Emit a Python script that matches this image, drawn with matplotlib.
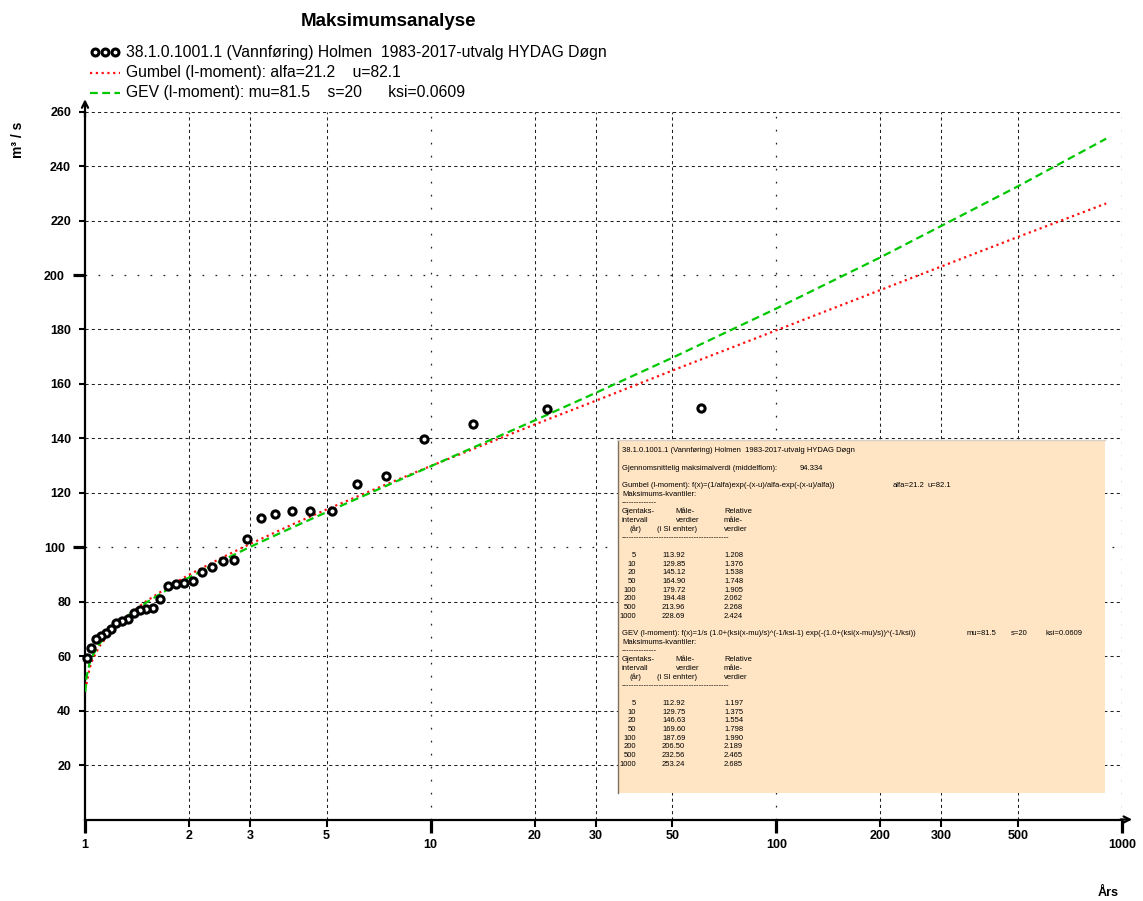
import matplotlib
matplotlib.use('Agg')
import matplotlib.pyplot as plt
from matplotlib.lines import Line2D
from matplotlib.patches import Rectangle
from matplotlib import font_manager
from matplotlib.ticker import FixedLocator, FixedFormatter

# ---------------- data ----------------
obs_T = [60.6, 21.77, 13.27, 9.54, 7.45, 6.11, 5.18, 4.49, 3.97, 3.55, 3.22, 2.94,
         2.70, 2.50, 2.33, 2.18, 2.05, 1.934, 1.83, 1.737, 1.652, 1.575, 1.506,
         1.442, 1.383, 1.329, 1.278, 1.232, 1.188, 1.149, 1.111, 1.076, 1.042, 1.011]
obs_Q = [151.0, 150.9, 145.4, 139.9, 126.0, 123.3, 113.5, 113.5, 113.5, 112.1, 110.7,
         103.1, 95.3, 95.1, 92.6, 90.9, 87.7, 86.8, 86.5, 85.6, 81.0, 77.8, 77.5,
         76.9, 75.9, 73.8, 73.0, 72.0, 69.8, 68.6, 67.5, 66.4, 63.1, 59.2]

gum_T = [1.01, 1.03, 1.05, 1.1, 1.2, 1.35, 1.5, 1.75, 2, 2.5, 3, 4, 5, 7, 10, 15,
         20, 30, 50, 100, 200, 500, 900]
gum_Q = [49.7, 55.3, 58.5, 63.6, 69.7, 75.7, 80.1, 85.6, 89.9, 96.3, 101.2, 108.5,
         113.9, 121.7, 129.85, 138.8, 145.1, 153.8, 164.9, 179.7, 194.5, 214.0, 226.3]

gev_T = [1.002, 1.01, 1.03, 1.05, 1.1, 1.2, 1.35, 1.5, 1.75, 2, 2.5, 3, 4, 5, 7, 10,
         15, 20, 30, 50, 100, 200, 500, 900]
gev_Q = [46.9, 52.3, 57.2, 60.0, 64.5, 70.0, 75.6, 79.6, 84.8, 88.9, 95.2, 100.1,
         107.4, 112.9, 121.1, 129.75, 139.6, 146.6, 156.7, 169.6, 187.7, 206.5,
         232.6, 250.1]

y_minor = [20, 40, 60, 80, 120, 140, 160, 180, 220, 240, 260]
y_major = [100, 200]
x_minor = [2, 3, 5, 20, 30, 50, 200, 300, 500]
x_major = [1, 10, 100, 1000]

title = "Maksimumsanalyse"
leg_obs = "38.1.0.1001.1 (Vannføring) Holmen  1983-2017-utvalg HYDAG Døgn"
leg_gum = "Gumbel (l-moment): alfa=21.2    u=82.1"
leg_gev = "GEV (l-moment): mu=81.5    s=20      ksi=0.0609"

tab_T = ["5", "10", "20", "50", "100", "200", "500", "1000"]
gum_val = ["113.92", "129.85", "145.12", "164.90", "179.72", "194.48", "213.96", "228.69"]
gum_rel = ["1.208", "1.376", "1.538", "1.748", "1.905", "2.062", "2.268", "2.424"]
gev_val = ["112.92", "129.75", "146.63", "169.60", "187.69", "206.50", "232.56", "253.24"]
gev_rel = ["1.197", "1.375", "1.554", "1.798", "1.990", "2.189", "2.465", "2.685"]

# ---------------- figure ----------------
W, H = 1143, 901
fig = plt.figure(figsize=(W / 100, H / 100), dpi=100)
SANS = 'Liberation Sans'
names = {f.name for f in font_manager.fontManager.ttflist}
NARROW = 'Liberation Sans Narrow' if 'Liberation Sans Narrow' in names else SANS

def fx(x):
    return x / W

def fy(y):
    return 1 - y / H

x0, x1 = 85, 1122
y0, y1 = 819.5, 111.7
ax = fig.add_axes([fx(x0), fy(y0), (x1 - x0) / W, (y0 - y1) / H])
ax.set_xscale('log')
ax.set_xlim(1, 1000)
ax.set_ylim(0, 260)
ax.set_facecolor('white')

for s in ['top', 'right']:
    ax.spines[s].set_visible(False)
for s in ['left', 'bottom']:
    ax.spines[s].set_linewidth(1.6)
    ax.spines[s].set_color('black')

# gridlines
gcol = '#202020'
for v in y_minor:
    ax.axhline(v, color=gcol, lw=0.75, ls=(0, (3, 3)), zorder=1)
for v in y_major:
    ax.axhline(v, color=gcol, lw=0.9, ls=(0, (1.4, 9)), zorder=1)
for v in x_minor:
    ax.axvline(v, color=gcol, lw=0.75, ls=(0, (3, 3)), zorder=1)
for v in x_major[1:]:
    ax.axvline(v, color=gcol, lw=0.9, ls=(0, (1.4, 9)), zorder=1)

# ticks
ax.yaxis.set_major_locator(FixedLocator(y_major))
ax.yaxis.set_minor_locator(FixedLocator(y_minor))
ax.yaxis.set_major_formatter(FixedFormatter([str(v) for v in y_major]))
ax.yaxis.set_minor_formatter(FixedFormatter([str(v) for v in y_minor]))
ax.xaxis.set_major_locator(FixedLocator(x_major))
ax.xaxis.set_minor_locator(FixedLocator(x_minor))
ax.xaxis.set_major_formatter(FixedFormatter([str(v) for v in x_major]))
ax.xaxis.set_minor_formatter(FixedFormatter([str(v) for v in x_minor]))

ax.tick_params(axis='y', which='minor', direction='out', length=4, width=1.5, pad=6)
ax.tick_params(axis='y', which='major', direction='out', length=8.5, width=2.3, pad=6)
ax.tick_params(axis='x', which='minor', direction='out', length=5, width=1.5, pad=2.5)
ax.tick_params(axis='x', which='major', direction='out', length=9, width=2.3, pad=5)
for lab in ax.get_xticklabels(which='both') + ax.get_yticklabels(which='both'):
    lab.set_fontfamily(SANS)
    lab.set_fontweight('bold')
    lab.set_fontsize(9)

# curves
ax.plot(gum_T, gum_Q, color='#FF1010', lw=1.6, ls=(0, (1, 1.6)), zorder=3)
ax.plot(gev_T, gev_Q, color='#00C800', lw=1.6, ls=(0, (3.5, 2)), zorder=3)
ax.plot(obs_T, obs_Q, ls='none', marker='o', ms=5.2, mew=2.2, mec='black',
        mfc='white', zorder=4, clip_on=False)

# axis arrows
ax.annotate('', xy=(1, 264.6), xytext=(1, 258), annotation_clip=False,
            arrowprops=dict(arrowstyle='->', lw=1.6, color='black', mutation_scale=11,
                            shrinkA=0, shrinkB=0))
ax.annotate('', xy=(1070, 0), xytext=(990, 0), annotation_clip=False,
            arrowprops=dict(arrowstyle='->', lw=1.6, color='black', mutation_scale=11,
                            shrinkA=0, shrinkB=0))

# title, axis labels
fig.text(fx(388), fy(22), title, ha='center', va='center', fontsize=13.5,
         fontweight='bold', family=SANS)
fig.text(fx(18), fy(140), 'm³ / s', rotation=90, ha='center', va='center',
         fontsize=10, fontweight='bold', family=SANS)
fig.text(fx(1108), fy(893), 'Års', ha='center', va='center', fontsize=9,
         fontweight='bold', family=SANS)

# legend
for xm in (95, 105, 115):
    fig.add_artist(Line2D([fx(xm)], [fy(52)], transform=fig.transFigure, marker='o',
                          ms=5.0, mew=2.2, mec='black', mfc='white', ls='none'))
fig.add_artist(Line2D([fx(90), fx(120)], [fy(73), fy(73)], transform=fig.transFigure,
                      color='#FF1010', lw=1.6, ls=(0, (1, 1.6))))
fig.add_artist(Line2D([fx(90), fx(120)], [fy(93), fy(93)], transform=fig.transFigure,
                      color='#00C800', lw=1.6, ls=(0, (3.5, 2))))
for yy, txt in ((52, leg_obs), (73, leg_gum), (93, leg_gev)):
    fig.text(fx(126), fy(yy), txt, ha='left', va='center', fontsize=11.3, family=SANS)

# info box
bx0, by0, bx1, by1 = 618, 440, 1105, 793
fig.add_artist(Rectangle((fx(bx0), fy(by1)), (bx1 - bx0) / W, (by1 - by0) / H,
                         transform=fig.transFigure, facecolor='#FFE5C4',
                         edgecolor='none', zorder=5))
fig.add_artist(Line2D([fx(bx0), fx(bx0)], [fy(by0), fy(by1)], transform=fig.transFigure,
                      color='#807060', lw=1, zorder=6))
fig.add_artist(Line2D([fx(bx0), fx(bx1)], [fy(by0), fy(by0)], transform=fig.transFigure,
                      color='#D8D0C8', lw=1, zorder=6))

# font size for box text so that the first line is ~235 px wide
renderer = fig.canvas.get_renderer()
probe = fig.text(0, 0, leg_obs, fontsize=10, family=NARROW)
wprobe = probe.get_window_extent(renderer).width
probe.remove()
bfs = 10 * 235 / wprobe

def btxt(x, line, s, ha='left'):
    fig.text(fx(x), fy(451 + 8.7 * line), s, ha=ha, va='center', fontsize=bfs,
             family=NARROW, color='black', zorder=7)

btxt(622, 0, leg_obs)
btxt(622, 2, "Gjennomsnittelig maksimalverdi (middelflom):")
btxt(800, 2, "94.334")

def block(start, formula, params, vals, rels):
    btxt(622, start, formula)
    for xp, p in params:
        btxt(xp, start, p)
    btxt(622, start + 1, "Maksimums-kvantiler:")
    btxt(622, start + 2, "-" * 14)
    btxt(622, start + 3, "Gjentaks-")
    btxt(675, start + 3, "Måle-")
    btxt(724, start + 3, "Relative")
    btxt(622, start + 4, "intervall")
    btxt(676, start + 4, "verdier")
    btxt(724, start + 4, "måle-")
    btxt(630, start + 5, "(år)")
    btxt(657, start + 5, "(i SI enhter)")
    btxt(724, start + 5, "verdier")
    btxt(622, start + 6, "-" * 43)
    for i, (t, v, r) in enumerate(zip(tab_T, vals, rels)):
        btxt(636, start + 8 + i, t, ha='right')
        btxt(662, start + 8 + i, v)
        btxt(724, start + 8 + i, r)

block(4, "Gumbel (l-moment): f(x)=(1/alfa)exp(-(x-u)/alfa-exp(-(x-u)/alfa))",
      [(893, "alfa=21.2"), (927, "u=82.1")], gum_val, gum_rel)
block(21, "GEV (l-moment): f(x)=1/s (1.0+(ksi(x-mu)/s)^(-1/ksi-1) exp(-(1.0+(ksi(x-mu)/s))^(-1/ksi))",
      [(967, "mu=81.5"), (1011, "s=20"), (1045, "ksi=0.0609")], gev_val, gev_rel)

fig.savefig('out.png', dpi=100, facecolor='white')
